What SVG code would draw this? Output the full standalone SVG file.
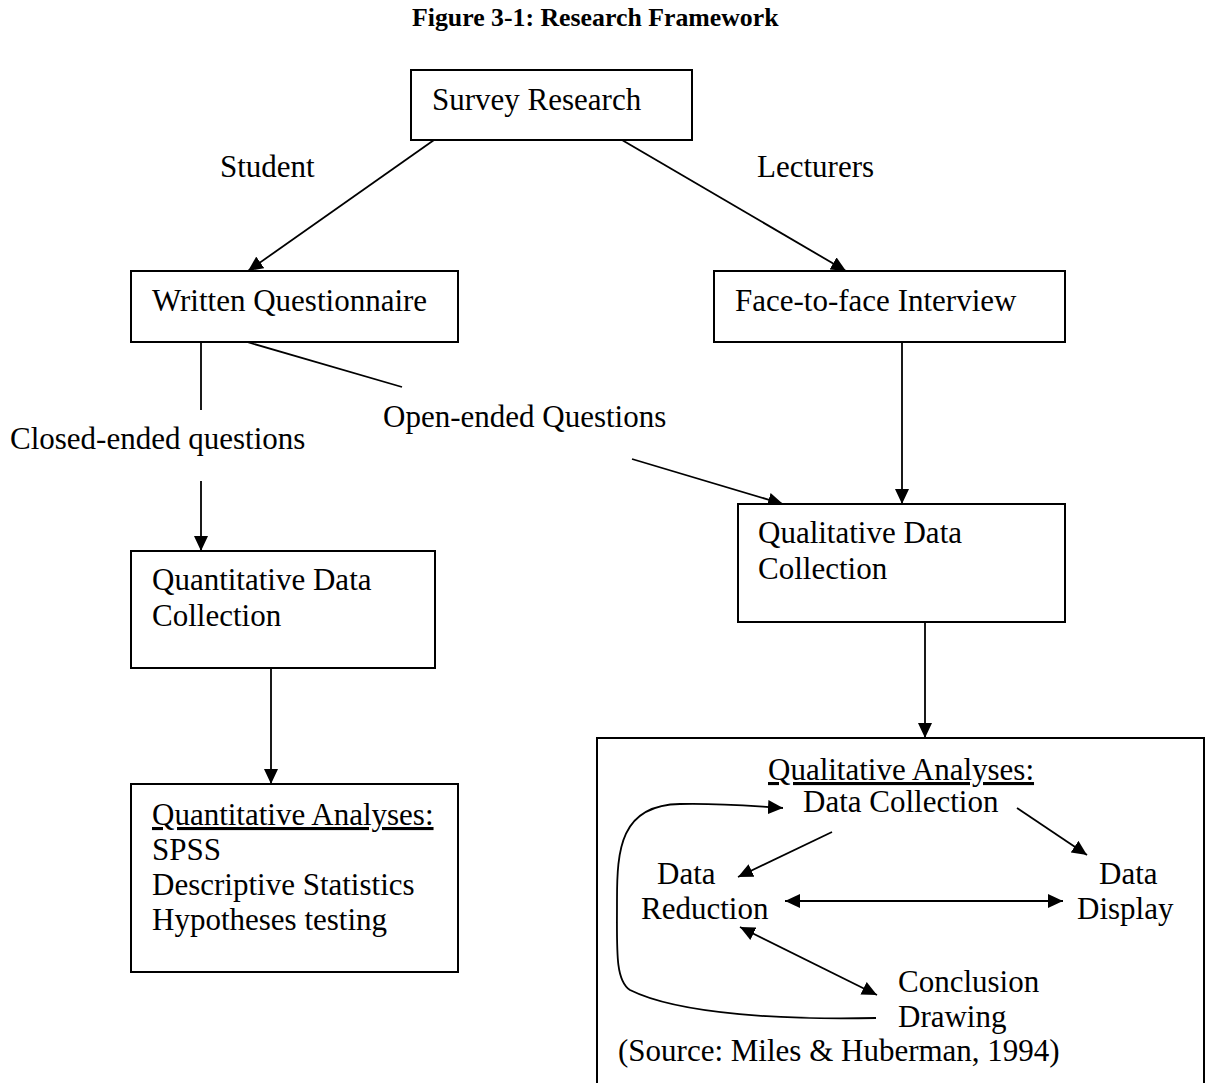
<svg xmlns="http://www.w3.org/2000/svg" width="1207" height="1083" viewBox="0 0 1207 1083">
<defs>
<style>
text{font-family:"Liberation Serif","Times New Roman",serif;font-size:31px;fill:#000}
.title{font-weight:bold;font-size:25.8px}
.box{fill:#fff;stroke:#000;stroke-width:2}
.frame{fill:none;stroke:#000;stroke-width:2}
.ln{fill:none;stroke:#000;stroke-width:1.8}
.ul{text-decoration:underline}
</style>
<marker id="ah" markerUnits="userSpaceOnUse" markerWidth="16" markerHeight="14" refX="15" refY="7" orient="auto-start-reverse">
<path d="M0,0 L15,7 L0,14 z" fill="#000"/>
</marker>
</defs>
<rect width="1207" height="1083" fill="#fff"/>
<text class="title" x="412" y="26">Figure 3-1: Research Framework</text>

<g id="connectors">
<line class="ln" x1="434" y1="140" x2="248" y2="271" marker-end="url(#ah)"/>
<line class="ln" x1="622" y1="140" x2="846" y2="271" marker-end="url(#ah)"/>
<line class="ln" x1="201" y1="342" x2="201" y2="410"/>
<line class="ln" x1="201" y1="481" x2="201" y2="551" marker-end="url(#ah)"/>
<line class="ln" x1="247" y1="342" x2="402" y2="387"/>
<line class="ln" x1="632" y1="459" x2="783" y2="504" marker-end="url(#ah)"/>
<line class="ln" x1="902" y1="342" x2="902" y2="504" marker-end="url(#ah)"/>
<line class="ln" x1="271" y1="668" x2="271" y2="784" marker-end="url(#ah)"/>
<line class="ln" x1="925" y1="622" x2="925" y2="738" marker-end="url(#ah)"/>
<line class="ln" x1="832" y1="832" x2="738" y2="877" marker-end="url(#ah)"/>
<line class="ln" x1="1017" y1="808" x2="1087" y2="855" marker-end="url(#ah)"/>
<line class="ln" x1="785" y1="901" x2="1063" y2="901" marker-start="url(#ah)" marker-end="url(#ah)"/>
<line class="ln" x1="740" y1="927" x2="877" y2="995" marker-start="url(#ah)" marker-end="url(#ah)"/>
<path class="ln" d="M876 1018 C790 1020 680 1015 630 990 C615 980 617 950 617 900 C617 850 620 805 680 804 C720 803 750 806 783 808" marker-end="url(#ah)"/>
</g>

<text x="220" y="177">Student</text>
<text x="757" y="177">Lecturers</text>
<text x="10" y="449">Closed-ended questions</text>
<text x="383" y="427">Open-ended Questions</text>

<g id="survey">
<rect class="box" x="411" y="70" width="281" height="70"/>
<text x="432" y="110">Survey Research</text>
</g>
<g id="written">
<rect class="box" x="131" y="271" width="327" height="71"/>
<text x="152" y="311">Written Questionnaire</text>
</g>
<g id="face">
<rect class="box" x="714" y="271" width="351" height="71"/>
<text x="735" y="311">Face-to-face Interview</text>
</g>
<g id="quantcollect">
<rect class="box" x="131" y="551" width="304" height="117"/>
<text x="152" y="590">Quantitative Data</text>
<text x="152" y="626">Collection</text>
</g>
<g id="qualcollect">
<rect class="box" x="738" y="504" width="327" height="118"/>
<text x="758" y="543">Qualitative Data</text>
<text x="758" y="579">Collection</text>
</g>
<g id="quantanalyses">
<rect class="box" x="131" y="784" width="327" height="188"/>
<text class="ul" x="152" y="825">Quantitative Analyses:</text>
<text x="152" y="860">SPSS</text>
<text x="152" y="895">Descriptive Statistics</text>
<text x="152" y="930">Hypotheses testing</text>
</g>
<g id="qualanalyses">
<rect class="frame" x="597" y="738" width="607" height="360"/>
<text class="ul" x="768" y="780">Qualitative Analyses:</text>
</g>
<g id="datacollection"><text x="803" y="812">Data Collection</text></g>
<g id="datareduction"><text x="657" y="884">Data</text><text x="641" y="919">Reduction</text></g>
<g id="datadisplay"><text x="1099" y="884">Data</text><text x="1077" y="919">Display</text></g>
<g id="conclusion"><text x="898" y="992">Conclusion</text><text x="898" y="1027">Drawing</text></g>
<text x="618" y="1061">(Source: Miles &amp; Huberman, 1994)</text>
</svg>
